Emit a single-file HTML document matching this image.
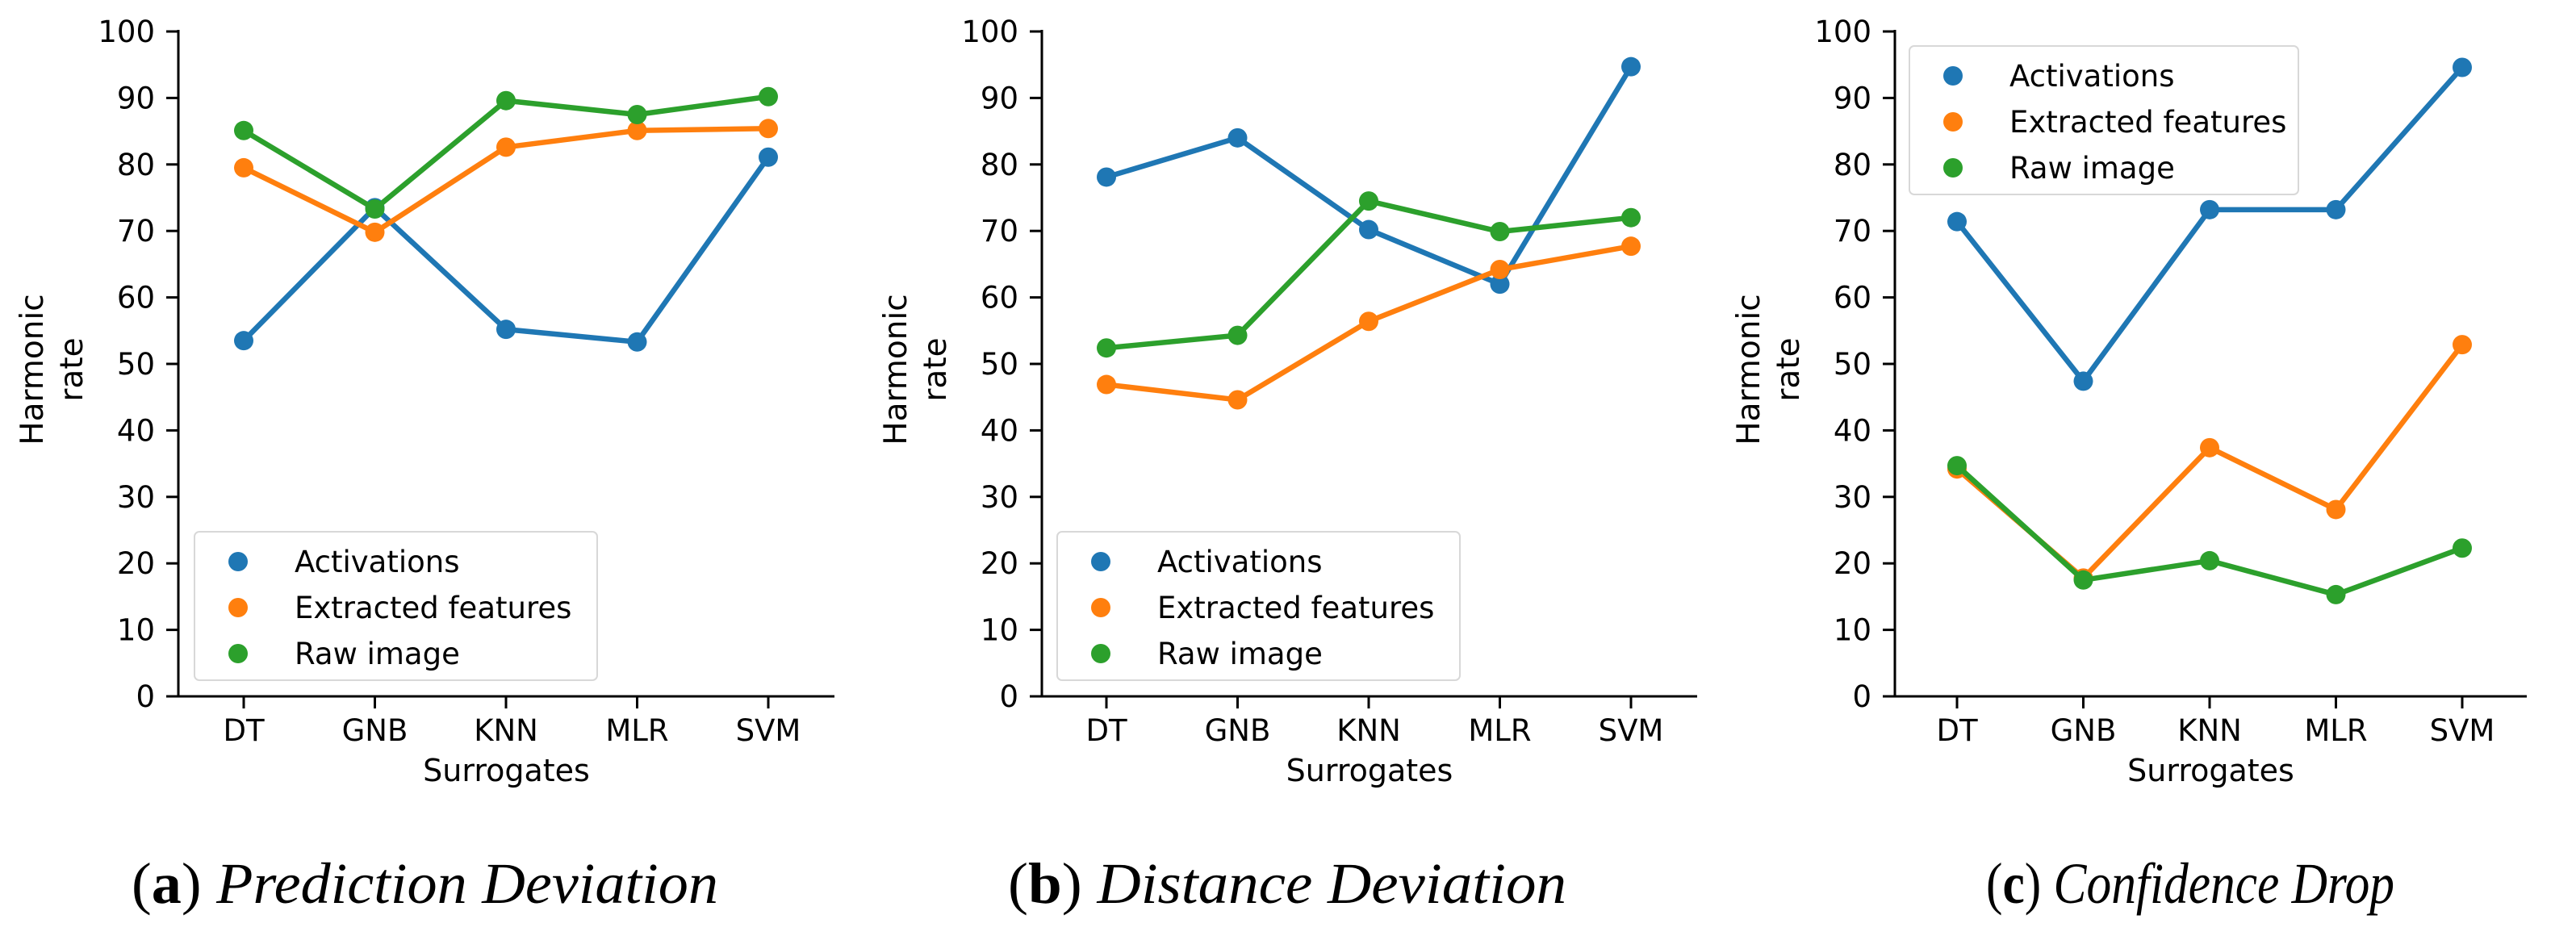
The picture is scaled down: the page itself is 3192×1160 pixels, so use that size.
<!DOCTYPE html>
<html><head><meta charset="utf-8"><style>
html,body{margin:0;padding:0;background:#fff;}
svg{display:block;}
text{font-family:"DejaVu Sans","Liberation Sans",sans-serif;fill:#000;}
.cap{font-family:"Liberation Serif",serif;}
</style></head><body>
<svg id="fig" width="3192" height="1160" viewBox="0 0 3192 1160" xmlns="http://www.w3.org/2000/svg"></svg>
<script>
const categories = ["DT","GNB","KNN","MLR","SVM"];
const yTicks = [0,10,20,30,40,50,60,70,80,90,100];
const seriesNames = ["Activations","Extracted features","Raw image"];
const aActivations = [53.5,73.5,55.2,53.3,81.1];
const aExtracted = [79.5,69.8,82.6,85.1,85.4];
const aRaw = [85.1,73.3,89.6,87.5,90.2];
const bActivations = [78.1,84.0,70.2,62.0,94.7];
const bExtracted = [46.9,44.6,56.4,64.2,67.7];
const bRaw = [52.4,54.3,74.5,69.9,72.0];
const cActivations = [71.4,47.4,73.2,73.2,94.6];
const cExtracted = [34.2,17.8,37.4,28.1,52.9];
const cRaw = [34.7,17.5,20.4,15.3,22.3];

const colors = ["#1f77b4","#ff7f0e","#2ca02c"];
const svg = document.getElementById('fig');
const NS = "http://www.w3.org/2000/svg";
function mk(tag, attrs, parent, txt){
  const e = document.createElementNS(NS, tag);
  for (const k in attrs) e.setAttribute(k, attrs[k]);
  if (txt !== undefined) e.textContent = txt;
  (parent||svg).appendChild(e);
  return e;
}
const Y0 = 863, Y100 = 39;
function yScale(v){ return Y0 + (Y100 - Y0) * v / 100; }

function panel(id, axisX, firstX, step, rightX, series, legend, caption){
  const g = mk('g', {});
  
  
  const xScale = i => firstX + i * step;
  // axes
  const ya = mk('line', {x1:axisX, y1:Y100-2, x2:axisX, y2:Y0+1.5, stroke:'#000','stroke-width':3}, g);
  
  
  const xa = mk('line', {x1:axisX-1.5, y1:Y0, x2:rightX, y2:Y0, stroke:'#000','stroke-width':3}, g);
  
  
  yTicks.forEach(t => {
    const y = yScale(t);
    mk('line', {x1:axisX-15, y1:y, x2:axisX, y2:y, stroke:'#000','stroke-width':3}, g);
    const tl = mk('text', {x:axisX-29, y:y+13, 'text-anchor':'end','font-size':37}, g, String(t));
    
    
  });
  categories.forEach((c, i) => {
    const x = xScale(i);
    mk('line', {x1:x, y1:Y0, x2:x, y2:Y0+15, stroke:'#000','stroke-width':3}, g);
    const tl = mk('text', {x:x, y:918, 'text-anchor':'middle','font-size':37}, g, c);
    
    
  });
  const xl = mk('text', {x:(axisX+rightX)/2, y:968, 'text-anchor':'middle','font-size':38}, g, 'Surrogates');
  
  
  const ylg = mk('text', {transform:'translate('+(axisX-168)+',458) rotate(-90)', 'text-anchor':'middle','font-size':39}, g);
  
  
  mk('tspan', {x:0, y:0}, ylg, 'Harmonic');
  mk('tspan', {x:0, y:49}, ylg, 'rate');
  // series
  series.forEach((vals, s) => {
    const pts = vals.map((v, i) => xScale(i) + ',' + yScale(v)).join(' ');
    const pl = mk('polyline', {points:pts, fill:'none', stroke:colors[s], 'stroke-width':6.5, 'stroke-linejoin':'round'}, g);
    
    
    vals.forEach((v, i) => {
      const c = mk('circle', {cx:xScale(i), cy:yScale(v), r:12, fill:colors[s]}, g);
      
      
    });
  });
  // legend
  const lg = mk('g', {}, g);
  
  
  mk('rect', {x:legend.x, y:legend.y, width:legend.w, height:184, rx:6, fill:'#fff', 'fill-opacity':0.85, stroke:'#d8d8d8','stroke-width':2}, lg);
  seriesNames.forEach((n, s) => {
    const ry = legend.y + 37 + s*57;
    const e = mk('g', {}, lg);
    
    
    mk('circle', {cx:legend.x+54, cy:ry, r:12, fill:colors[s]}, e);
    mk('text', {x:legend.x+124, y:ry+13, 'font-size':37}, e, n);
  });
  // caption
  const cap = mk('text', {x:caption.x, y:1119, 'font-size':72, class:'cap', textLength:caption.w, lengthAdjust:'spacingAndGlyphs'}, g);
  
  
  mk('tspan', {}, cap, '(');
  mk('tspan', {'font-weight':'bold'}, cap, id);
  mk('tspan', {}, cap, ') ');
  mk('tspan', {'font-style':'italic'}, cap, caption.t);
}

panel('a', 221, 302, 162.5, 1034, [aActivations,aExtracted,aRaw], {x:241,y:659,w:499}, {x:163,w:727,t:'Prediction Deviation'});
panel('b', 1291, 1371, 162.5, 2103, [bActivations,bExtracted,bRaw], {x:1310,y:659,w:499}, {x:1249,w:692,t:'Distance Deviation'});
panel('c', 2348, 2425, 156.5, 3131, [cActivations,cExtracted,cRaw], {x:2366,y:57,w:482}, {x:2461,w:506,t:'Confidence Drop'});
</script>
</body></html>
